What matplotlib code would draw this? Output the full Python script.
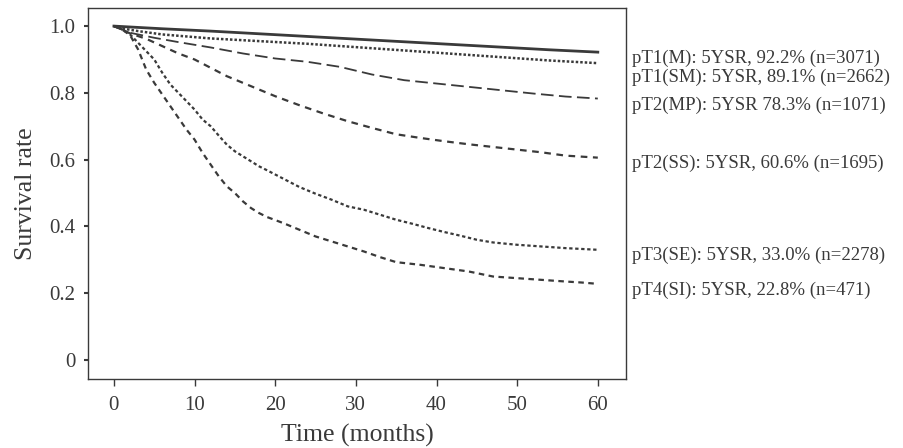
import numpy as np
import matplotlib.pyplot as plt
import matplotlib.transforms as mtransforms

plt.rcParams['font.family'] = ['Liberation Serif', 'DejaVu Serif']

# Kaplan-Meier estimates by pT category (months, survival)
t_m = [0, 6, 12, 18, 24, 30, 36, 42, 48, 54, 60]
s_m = [1.0, 0.992, 0.985, 0.977, 0.969, 0.961, 0.953, 0.945, 0.937, 0.929, 0.922]

t_sm = [0, 1, 3, 6, 12, 18, 24, 30, 36, 42, 48, 54, 60]
s_sm = [1.0, 0.993, 0.985, 0.975, 0.963, 0.955, 0.947, 0.937, 0.927, 0.917, 0.907, 0.897, 0.889]

t_mp = [0, 1, 2, 3, 5, 8, 12, 16, 20, 24, 28, 32, 36, 40, 44, 48, 52, 56, 60]
s_mp = [1.0, 0.99, 0.98, 0.975, 0.965, 0.952, 0.936, 0.918, 0.903, 0.893, 0.878, 0.855,
        0.838, 0.828, 0.818, 0.808, 0.798, 0.789, 0.783]

t_ss = [0, 1, 2, 3, 4, 6, 8, 10, 12, 14, 16, 18, 20, 23, 26, 29, 32, 35, 38, 41, 44, 47,
        50, 53, 56, 60]
s_ss = [1.0, 0.99, 0.978, 0.97, 0.962, 0.94, 0.918, 0.9, 0.875, 0.85, 0.83, 0.81, 0.79,
        0.763, 0.738, 0.715, 0.695, 0.676, 0.665, 0.655, 0.646, 0.638, 0.63, 0.622, 0.612,
        0.606]

t_se = [0, 1, 2, 3, 4, 5, 6, 7, 8, 9, 10, 11, 12, 13, 14, 15, 16, 17, 18, 19, 21, 23, 25,
        27, 29, 31, 33, 35, 37, 39, 41, 43, 45, 47, 50, 53, 56, 60]
s_se = [1.0, 0.99, 0.975, 0.95, 0.925, 0.9, 0.86, 0.825, 0.8, 0.775, 0.75, 0.72, 0.7,
        0.672, 0.645, 0.625, 0.61, 0.595, 0.58, 0.568, 0.543, 0.518, 0.498, 0.48, 0.46,
        0.45, 0.435, 0.42, 0.408, 0.395, 0.383, 0.372, 0.36, 0.352, 0.345, 0.34, 0.335, 0.33]

t_si = [0, 1, 2, 3, 4, 5, 6, 7, 8, 9, 10, 11, 12, 13, 14, 15, 16, 17, 18, 19, 21, 23, 25,
        27, 29, 31, 33, 35, 38, 41, 44, 47, 50, 53, 56, 58, 60]
s_si = [1.0, 0.99, 0.973, 0.93, 0.87, 0.83, 0.795, 0.76, 0.725, 0.69, 0.66, 0.62, 0.585,
        0.55, 0.52, 0.5, 0.475, 0.455, 0.44, 0.428, 0.41, 0.39, 0.37, 0.355, 0.34, 0.325,
        0.308, 0.293, 0.285, 0.275, 0.265, 0.25, 0.245, 0.24, 0.235, 0.232, 0.228]

labels = ['pT1(M): 5YSR, 92.2% (n=3071)',
          'pT1(SM): 5YSR, 89.1% (n=2662)',
          'pT2(MP): 5YSR 78.3% (n=1071)',
          'pT2(SS): 5YSR, 60.6% (n=1695)',
          'pT3(SE): 5YSR, 33.0% (n=2278)',
          'pT4(SI): 5YSR, 22.8% (n=471)']

ink = '#3a3a3a'
fig = plt.figure(figsize=(9.04, 4.48), dpi=100)
ax = fig.add_axes([0.0973, 0.154, 0.5952, 0.828])

curves = [
    (t_m, s_m, dict(linestyle='-', linewidth=2.0)),
    (t_sm, s_sm, dict(linestyle=(0, (1, 0.8)), linewidth=1.8)),
    (t_mp, s_mp, dict(linestyle=(0, (7, 3)), linewidth=1.3)),
    (t_ss, s_ss, dict(linestyle=(0, (3, 2.5)), linewidth=1.6)),
    (t_se, s_se, dict(linestyle=(0, (1.5, 1.2)), linewidth=1.6)),
    (t_si, s_si, dict(linestyle=(0, (2.5, 2)), linewidth=1.6)),
]
for t, s, style in curves:
    ax.plot(t, s, color=ink, **style)

# curve labels in the right margin
label_y = [0.904, 0.847, 0.763, 0.590, 0.314, 0.210]
trans = mtransforms.blended_transform_factory(ax.transAxes, ax.transData)
for txt, yv in zip(labels, label_y):
    ax.text(1.011, yv, txt, transform=trans, va='center', ha='left',
            fontsize=13.5, color=ink, clip_on=False)

ax.set_xlim(-3.22, 63.5)
ax.set_ylim(-0.057, 1.054)
ax.set_xticks(range(0, 61, 10))
ax.set_yticks([0, 0.2, 0.4, 0.6, 0.8, 1.0])
ax.set_yticklabels(['0', '0.2', '0.4', '0.6', '0.8', '1.0'])
ax.tick_params(axis='x', direction='out', length=5, width=1, colors=ink,
               labelsize=15, pad=7)
ax.tick_params(axis='y', direction='out', length=3, width=1.5, colors=ink,
               labelsize=15, pad=6)
for sp in ax.spines.values():
    sp.set_color(ink)
    sp.set_linewidth(1.0)

ax.set_xlabel('Time (months)', fontsize=18.5, color=ink, labelpad=7)
ax.set_ylabel('Survival rate', fontsize=18.5, color=ink, labelpad=9)

fig.savefig('out.png', dpi=100)
